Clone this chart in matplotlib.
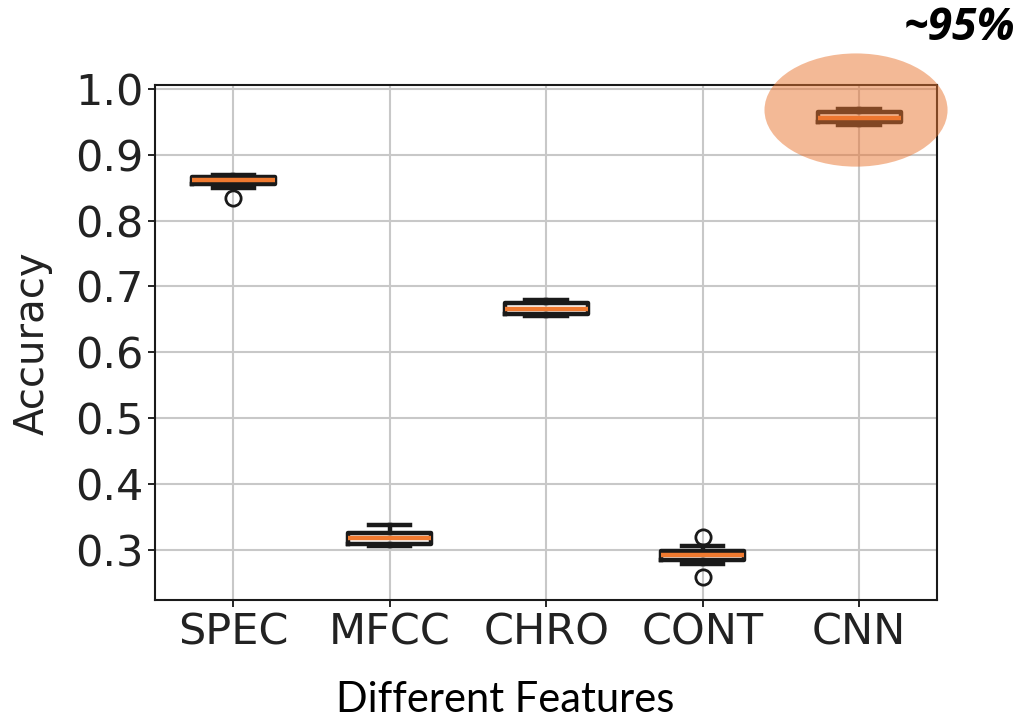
import matplotlib.pyplot as plt
from matplotlib.patches import Ellipse

features = ['SPEC', 'MFCC', 'CHRO', 'CONT', 'CNN']
# whisker low, q1, median, q3, whisker high
whislo = [0.850, 0.305, 0.655, 0.279, 0.945]
q1 = [0.856, 0.309, 0.658, 0.285, 0.950]
med = [0.861, 0.318, 0.666, 0.292, 0.956]
q3 = [0.866, 0.326, 0.675, 0.298, 0.965]
whishi = [0.869, 0.338, 0.680, 0.306, 0.970]
outliers = [[0.834], [], [], [0.320, 0.259], []]

stats = []
for i in range(len(features)):
    stats.append({'label': features[i], 'whislo': whislo[i], 'q1': q1[i],
                  'med': med[i], 'q3': q3[i], 'whishi': whishi[i],
                  'fliers': outliers[i]})

fig = plt.figure(figsize=(10.2, 7.23), dpi=100)
ax = fig.add_axes([0.152, 0.170, 0.767, 0.712])

lw = 3.2
ax.bxp(stats, widths=0.53,
       boxprops=dict(color='#1a1a1a', linewidth=lw),
       whiskerprops=dict(color='#1a1a1a', linewidth=lw),
       capprops=dict(color='#1a1a1a', linewidth=lw),
       medianprops=dict(color='#f07a30', linewidth=lw),
       flierprops=dict(marker='o', markersize=11, markerfacecolor='none',
                       markeredgecolor='#1a1a1a', markeredgewidth=2))

ax.grid(True, color='#c8c8c8', linewidth=1.5)
ax.set_axisbelow(True)
ax.set_yticks([0.3, 0.4, 0.5, 0.6, 0.7, 0.8, 0.9, 1.0])
ax.tick_params(labelsize=31, length=5, width=1.2, labelcolor='#222222')
for s in ax.spines.values():
    s.set_linewidth(1.5)
    s.set_color('#1a1a1a')
ax.set_ylabel('Accuracy', fontsize=29, color='#222222', labelpad=16)

fig.text(0.495, 0.032, 'Different Features', ha='center', va='center',
         fontsize=30, family='Lato')

# highlight for the CNN box
ell = Ellipse((4.98, 0.968), 1.17, 0.172, facecolor='#e9742f', alpha=0.5,
              edgecolor='none', clip_on=False, zorder=5)
ax.add_patch(ell)

fig.text(0.995, 0.96, '~95%', ha='right', va='center', fontsize=32,
         fontweight='bold', fontstyle='italic', family='Open Sans')

fig.savefig('out.png', dpi=100)
